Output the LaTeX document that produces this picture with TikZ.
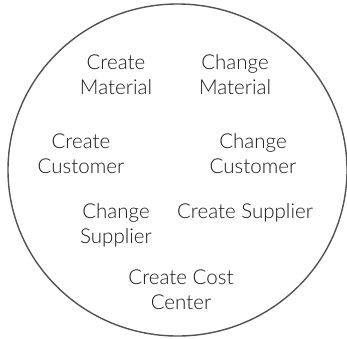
\documentclass[tikz,border=0pt]{standalone}
\usepackage{fontspec}
\setmainfont{Lato}[UprightFont=* Light]
\begin{document}
\begin{tikzpicture}[x=1pt,y=-1pt,
  lbl/.style={align=center,font=\fontsize{20.5}{25}\selectfont,text=black!90,inner sep=0pt}]
\useasboundingbox (0,0) rectangle (347,338);
\draw[black!68,line width=1.4pt] (177.5,170) ellipse [x radius=169.5,y radius=166];
\node[lbl] (cm) at (116,75) {Create\\Material};
\node[lbl] (chm) at (235,75) {Change\\Material};
\node[lbl] (cc) at (81,154) {Create\\Customer};
\node[lbl] (chc) at (253,154) {Change\\Customer};
\node[lbl] (chs) at (116,225) {Change\\Supplier};
\node[lbl] (cs) at (245,213) {Create Supplier};
\node[lbl] (ccc) at (181,290) {Create Cost\\Center};
\end{tikzpicture}
\end{document}
